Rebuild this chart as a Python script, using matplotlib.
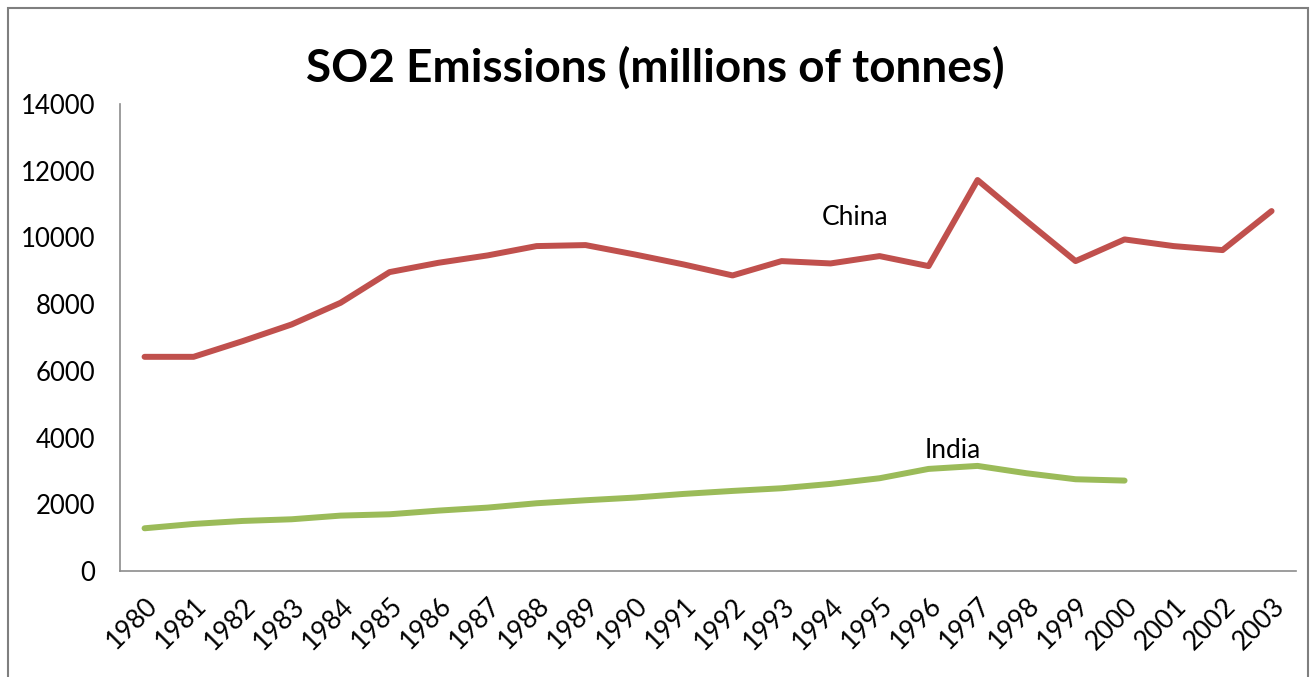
import matplotlib
matplotlib.use("Agg")
import matplotlib.pyplot as plt
from matplotlib.patches import Rectangle
import numpy as np

years = [str(y) for y in range(1980, 2004)]
china = [6420, 6420, 6890, 7390, 8040, 8960, 9240, 9460, 9740, 9770,
         9490, 9190, 8860, 9290, 9220, 9440, 9140, 11720, 10490, 9290,
         9940, 9740, 9620, 10790]
# India data stops at 2000
india = [1280, 1410, 1500, 1550, 1660, 1700, 1810, 1900, 2030, 2120,
         2200, 2310, 2400, 2480, 2610, 2780, 3060, 3150, 2930, 2750,
         2710]
yticks = [0, 2000, 4000, 6000, 8000, 10000, 12000, 14000]

plt.rcParams['font.family'] = ['Lato', 'DejaVu Sans']

fig = plt.figure(figsize=(13.15, 6.77), dpi=100)
ax = fig.add_axes([0.0913, 0.1566, 0.8943, 0.6898])

x = np.arange(len(years))
ax.plot(x, china, color='#C0504D', linewidth=4.3, solid_capstyle='round',
        solid_joinstyle='round')
ax.plot(x[:len(india)], india, color='#9BBB59', linewidth=4.3,
        solid_capstyle='round', solid_joinstyle='round')

ax.text(14.5, 10600, 'China', fontsize=19, ha='center', va='center')
ax.text(16.5, 3600, 'India', fontsize=19, ha='center', va='center')

ax.set_xlim(-0.5, len(years) - 0.5)
ax.set_ylim(0, 14000)
ax.set_yticks(yticks)
ax.set_yticklabels([str(v) for v in yticks], fontsize=18.5)
ax.set_xticks(x)
ax.set_xticklabels(years, fontsize=19, rotation=45, ha='right',
                   rotation_mode='anchor')
ax.tick_params(axis='both', length=0)
ax.tick_params(axis='x', pad=16)
ax.tick_params(axis='y', pad=18)

for side in ['top', 'right']:
    ax.spines[side].set_visible(False)
for side in ['left', 'bottom']:
    ax.spines[side].set_color('#8C8C8C')
    ax.spines[side].set_linewidth(1.2)

fig.text(0.498, 0.9, 'SO2 Emissions (millions of tonnes)', fontsize=33,
         fontweight='bold', ha='center', va='center')

# outer chart frame
fig.patches.append(Rectangle((0.006, -0.05), 0.9887, 1.038,
                             transform=fig.transFigure, fill=False,
                             edgecolor='#7F7F7F', linewidth=1.5))

fig.savefig('out.png', dpi=100)
